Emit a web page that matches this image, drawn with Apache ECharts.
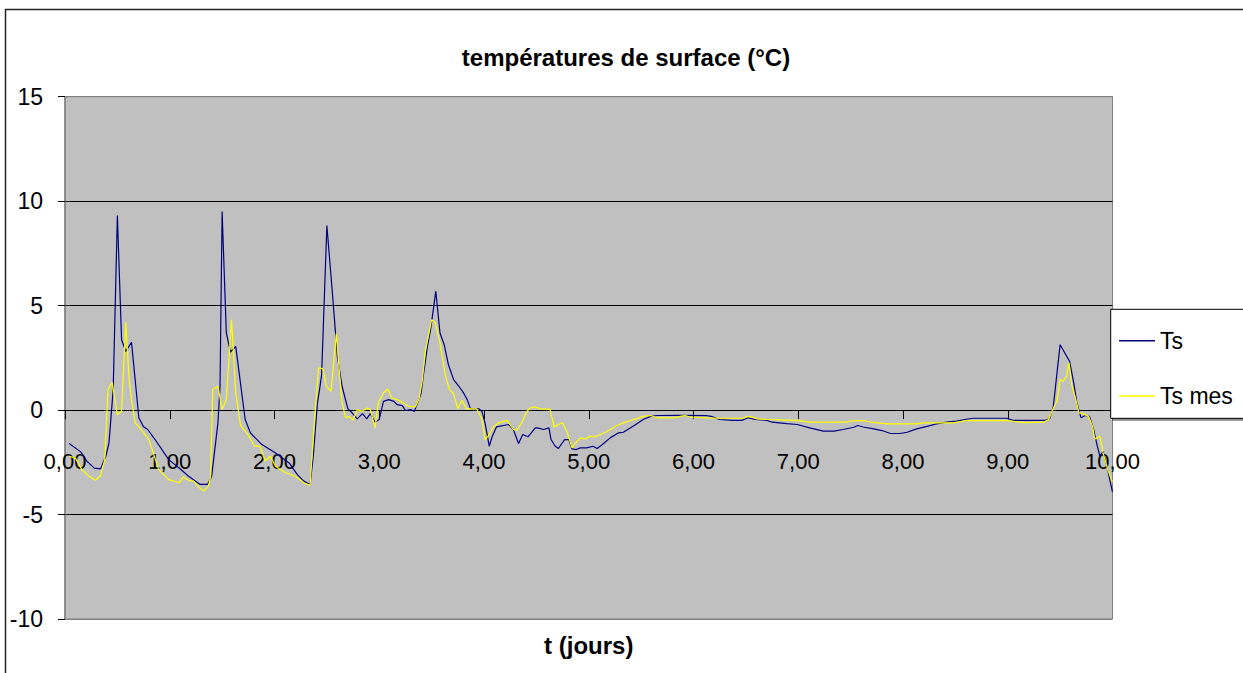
<!DOCTYPE html>
<html>
<head>
<meta charset="utf-8">
<script src="https://cdn.jsdelivr.net/npm/echarts@6/dist/echarts.min.js"></script>
<style>
  html, body { margin: 0; padding: 0; background: #fff; overflow: hidden; }
  #chart { width: 1243px; height: 673px; }
</style>
</head>
<body>
<div id="chart"></div>
<script>
const chartTitle = 'températures de surface (°C)';
const xName = 't (jours)';
const seriesNames = ['Ts', 'Ts mes'];
const xTickLabels = ['0,00', '1,00', '2,00', '3,00', '4,00', '5,00', '6,00', '7,00', '8,00', '9,00', '10,00'];

// surface temperature, computed: [t (days), °C]
const ts = [
  [0.04,-1.6],[0.15,-2.0],[0.21,-2.45],[0.28,-2.78],[0.34,-2.81],[0.39,-2.21],[0.42,-1.57],[0.46,0.98],
  [0.50,9.31],[0.54,3.37],[0.58,2.81],[0.635,3.24],[0.705,-0.37],[0.75,-0.80],[0.79,-0.93],[0.86,-1.41],
  [0.99,-2.37],[1.09,-2.77],[1.18,-3.17],[1.29,-3.56],[1.36,-3.56],[1.40,-3.17],[1.46,-0.61],[1.48,1.14],
  [1.50,9.5],[1.54,3.69],[1.58,2.78],[1.63,3.05],[1.72,-0.45],[1.77,-1.09],[1.88,-1.65],[2.01,-2.05],
  [2.14,-2.53],[2.22,-3.1],[2.28,-3.4],[2.34,-3.56],[2.37,-2.21],[2.41,0.34],[2.43,0.98],[2.45,1.70],
  [2.50,8.83],[2.55,5.77],[2.60,2.57],[2.645,1.14],[2.70,0.07],[2.74,-0.13],[2.79,-0.42],[2.84,-0.17],
  [2.88,-0.42],[2.915,-0.17],[2.96,-0.58],[3.00,-0.45],[3.04,0.42],[3.09,0.50],[3.14,0.42],[3.17,0.26],
  [3.22,0.21],[3.25,-0.02],[3.30,0.02],[3.335,-0.06],[3.36,0.26],[3.40,0.82],[3.42,1.62],[3.46,3.05],
  [3.49,3.85],[3.54,5.69],[3.58,3.69],[3.62,3.13],[3.66,2.18],[3.71,1.46],[3.76,1.14],[3.805,0.82],
  [3.84,0.50],[3.87,0.07],[3.95,0.06],[3.98,-0.06],[4.01,-0.61],[4.05,-1.73],[4.08,-1.25],[4.12,-0.80],
  [4.235,-0.69],[4.28,-0.93],[4.33,-1.60],[4.37,-1.17],[4.42,-1.28],[4.49,-0.85],[4.51,-0.85],[4.57,-0.93],
  [4.62,-0.85],[4.64,-1.41],[4.68,-1.73],[4.71,-1.84],[4.77,-1.41],[4.81,-1.41],[4.84,-1.86],[4.88,-1.89],
  [4.92,-1.81],[4.98,-1.81],[5.04,-1.73],[5.08,-1.84],[5.13,-1.65],[5.205,-1.33],[5.285,-1.09],[5.33,-1.06],
  [5.40,-0.85],[5.46,-0.65],[5.52,-0.45],[5.59,-0.30],[5.65,-0.26],[5.87,-0.25],[6.13,-0.27],[6.17,-0.30],
  [6.25,-0.45],[6.38,-0.49],[6.46,-0.49],[6.525,-0.37],[6.59,-0.45],[6.70,-0.49],[6.75,-0.58],[6.89,-0.65],
  [6.99,-0.69],[7.11,-0.85],[7.24,-1.01],[7.34,-1.01],[7.43,-0.93],[7.53,-0.82],[7.57,-0.74],[7.62,-0.81],
  [7.72,-0.90],[7.80,-0.98],[7.88,-1.12],[7.97,-1.12],[8.04,-1.06],[8.13,-0.90],[8.23,-0.78],[8.32,-0.66],
  [8.42,-0.58],[8.51,-0.53],[8.59,-0.45],[8.67,-0.39],[8.99,-0.39],[9.05,-0.49],[9.36,-0.49],[9.40,-0.41],
  [9.435,0.18],[9.50,3.13],[9.59,2.34],[9.63,1.30],[9.66,0.34],[9.70,-0.37],[9.74,-0.26],[9.78,-0.30],
  [9.82,-0.93],[9.855,-1.73],[9.88,-2.21],[9.91,-1.97],[9.95,-2.77],[10.0,-3.93]
];

// surface temperature, measured: [t (days), °C]
const tsMes = [
  [0.04,-2.21],[0.10,-2.3],[0.16,-2.85],[0.23,-3.17],[0.29,-3.36],[0.34,-3.13],[0.38,-2.37],[0.41,0.98],
  [0.45,1.33],[0.50,-0.22],[0.54,-0.06],[0.58,4.20],[0.61,1.62],[0.635,0.50],[0.67,-0.61],[0.74,-1.01],
  [0.80,-1.41],[0.895,-2.85],[0.99,-3.33],[1.09,-3.48],[1.13,-3.20],[1.18,-3.36],[1.23,-3.41],[1.28,-3.69],
  [1.325,-3.88],[1.37,-3.64],[1.39,-3.17],[1.41,0.98],[1.46,1.14],[1.50,0.02],[1.54,0.50],[1.59,4.33],
  [1.63,0.82],[1.675,-0.72],[1.75,-1.20],[1.81,-1.73],[1.86,-1.73],[1.91,-2.44],[1.96,-2.21],[2.01,-2.69],
  [2.10,-2.99],[2.20,-3.17],[2.28,-3.48],[2.34,-3.60],[2.38,-0.61],[2.42,2.02],[2.46,1.99],[2.495,1.14],
  [2.54,0.90],[2.59,3.66],[2.62,1.78],[2.645,0.34],[2.68,-0.37],[2.71,-0.30],[2.75,-0.49],[2.79,0.02],
  [2.84,-0.06],[2.88,0.10],[2.915,0.02],[2.96,-0.85],[2.99,0.34],[3.04,0.82],[3.08,1.01],[3.12,0.58],
  [3.17,0.50],[3.23,0.34],[3.28,0.18],[3.345,0.15],[3.38,0.54],[3.41,1.38],[3.44,2.81],[3.50,4.33],
  [3.535,4.17],[3.58,3.21],[3.63,1.70],[3.67,0.98],[3.71,0.78],[3.75,0.06],[3.79,0.47],[3.83,0.06],
  [3.93,0.06],[3.98,-0.45],[4.01,-1.41],[4.04,-1.25],[4.09,-0.80],[4.14,-0.61],[4.22,-0.49],[4.28,-0.93],
  [4.315,-0.96],[4.36,-0.61],[4.41,-0.06],[4.44,0.10],[4.49,0.15],[4.54,0.05],[4.63,0.05],[4.67,-0.81],
  [4.71,-0.69],[4.75,-0.61],[4.79,-1.01],[4.84,-1.81],[4.87,-1.60],[4.92,-1.33],[4.97,-1.38],[5.01,-1.25],
  [5.06,-1.28],[5.11,-1.17],[5.16,-1.06],[5.205,-0.93],[5.27,-0.74],[5.33,-0.61],[5.40,-0.50],[5.46,-0.41],
  [5.52,-0.30],[5.59,-0.26],[5.65,-0.37],[5.81,-0.37],[5.87,-0.30],[5.92,-0.26],[5.97,-0.33],[6.13,-0.37],
  [6.25,-0.39],[6.48,-0.39],[6.51,-0.30],[6.56,-0.34],[6.61,-0.42],[6.70,-0.45],[6.99,-0.49],[7.11,-0.58],
  [7.46,-0.58],[7.53,-0.50],[7.62,-0.50],[7.69,-0.58],[7.85,-0.66],[8.13,-0.66],[8.20,-0.61],[8.48,-0.61],
  [8.61,-0.50],[8.99,-0.50],[9.15,-0.60],[9.34,-0.58],[9.39,-0.45],[9.435,0.10],[9.47,0.42],[9.50,1.46],
  [9.53,1.38],[9.56,1.62],[9.585,2.26],[9.61,1.22],[9.65,0.50],[9.68,-0.13],[9.72,-0.17],[9.77,-0.30],
  [9.81,-0.78],[9.83,-1.38],[9.855,-1.33],[9.88,-1.25],[9.91,-2.05],[9.96,-2.93],[10.0,-3.45]
];

const FONT = '"Liberation Sans", Arial, sans-serif';

const chart = echarts.init(document.getElementById('chart'), null, { renderer: 'svg' });

chart.setOption({
  animation: false,
  backgroundColor: '#ffffff',
  textStyle: { fontFamily: FONT, color: '#000' },
  title: {
    text: chartTitle,
    left: 626,
    textAlign: 'center',
    top: 45.5,
    padding: 0,
    textStyle: { fontFamily: FONT, fontSize: 24, fontWeight: 'bold', color: '#000' }
  },
  // chart-area frame
  graphic: [{
    type: 'rect',
    silent: true,
    shape: { x: 5.5, y: 9.5, width: 1400, height: 1000 },
    style: { fill: 'none', stroke: '#222', lineWidth: 1.5 }
  }],
  legend: {
    orient: 'vertical',
    left: 1110.7,
    top: 309.3,
    padding: [19.9, 12, 10.8, 8.3],
    icon: 'rect',
    itemWidth: 36,
    itemHeight: 1.5,
    itemGap: 32.3,
    backgroundColor: '#fff',
    borderColor: '#000',
    borderWidth: 1,
    shadowColor: 'rgba(0,0,0,0.45)',
    shadowOffsetX: 2,
    shadowOffsetY: 2,
    shadowBlur: 0,
    textStyle: { fontFamily: FONT, fontSize: 23, color: '#000' },
    data: seriesNames
  },
  grid: {
    left: 65,
    top: 96.7,
    width: 1047.5,
    height: 522.3,
    outerBoundsMode: 'none',
    containLabel: false,
    show: true,
    backgroundColor: '#C0C0C0',
    borderColor: '#808080',
    borderWidth: 1
  },
  xAxis: {
    type: 'value',
    min: 0,
    max: 10,
    interval: 1,
    name: xName,
    nameLocation: 'middle',
    nameGap: 14,
    nameTextStyle: { fontFamily: FONT, fontSize: 24, fontWeight: 'bold', color: '#000' },
    // the axis line and its ticks sit on the 0 °C line; labels are offset from the plot's lower edge
    axisLine: { onZero: true, lineStyle: { color: '#000', width: 1 } },
    axisTick: { show: true, length: 9, lineStyle: { color: '#000', width: 1 } },
    axisLabel: {
      margin: -168.3,
      fontFamily: FONT,
      fontSize: 22,
      color: '#000',
      formatter: v => xTickLabels[Math.round(v)]
    },
    splitLine: { show: false }
  },
  yAxis: {
    type: 'value',
    min: -10,
    max: 15,
    interval: 5,
    axisLine: { show: true, onZero: false, lineStyle: { color: '#808080', width: 1.5 } },
    axisTick: { show: true, length: 7, lineStyle: { color: '#000', width: 1 } },
    axisLabel: { margin: 22, fontFamily: FONT, fontSize: 23, color: '#000' },
    splitLine: {
      show: true,
      lineStyle: { color: ['#808080', '#000', '#000', '#000', '#000', '#808080'], width: 1 }
    }
  },
  series: [
    {
      name: seriesNames[0],
      type: 'line',
      data: ts,
      symbol: 'none',
      color: '#000080',
      lineStyle: { color: '#000080', width: 1.2 }
    },
    {
      name: seriesNames[1],
      type: 'line',
      data: tsMes,
      symbol: 'none',
      color: '#FFFF00',
      lineStyle: { color: '#FFFF00', width: 1.2 }
    }
  ]
});
</script>
</body>
</html>
